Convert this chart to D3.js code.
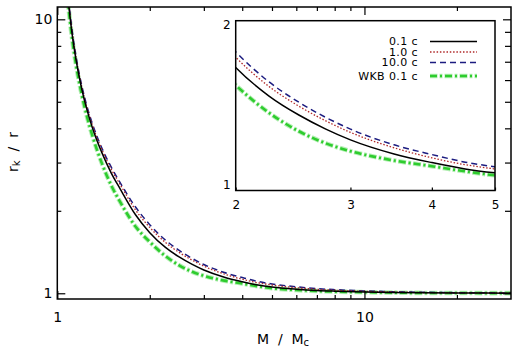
<!DOCTYPE html>
<html>
<head>
<meta charset="utf-8">
<script src="https://cdn.jsdelivr.net/npm/d3@7"></script>
<style>
  body { margin: 0; background: #fff; }
  text { font-family: "DejaVu Sans", sans-serif; fill: #000; }
</style>
</head>
<body>
<div id="chart"></div>
<script>
// M / Mc sample points and r_k / r for each run
const massRatio = [1.08, 1.09, 1.1, 1.12, 1.15, 1.2, 1.25, 1.3, 1.4, 1.5, 1.6, 1.8, 2, 2.25, 2.5, 2.75, 3, 3.5, 4, 4.5, 5, 6, 7, 8, 10, 12, 15, 20, 25, 30];
const run01 = [12.5, 11.2, 10.2, 8.67, 7.14, 5.59, 4.66, 4.03, 3.24, 2.74, 2.41, 1.93, 1.664, 1.47, 1.354, 1.274, 1.216, 1.144, 1.102, 1.072, 1.054, 1.035, 1.024, 1.018, 1.011, 1.007, 1.004, 1.002, 1.0015, 1.001];
const run10 = [12.75, 11.42, 10.4, 8.84, 7.28, 5.7, 4.75, 4.12, 3.33, 2.83, 2.5, 2.01, 1.739, 1.532, 1.407, 1.32, 1.256, 1.175, 1.125, 1.092, 1.072, 1.048, 1.034, 1.026, 1.017, 1.012, 1.007, 1.004, 1.0025, 1.002];
const run100 = [12.88, 11.54, 10.51, 8.93, 7.35, 5.76, 4.8, 4.17, 3.37, 2.88, 2.54, 2.06, 1.78, 1.563, 1.431, 1.34, 1.274, 1.19, 1.141, 1.104, 1.082, 1.056, 1.04, 1.031, 1.02, 1.014, 1.009, 1.005, 1.0035, 1.003];
const wkb01 = [12.06, 10.81, 9.84, 8.34, 6.85, 5.34, 4.4, 3.77, 2.96, 2.47, 2.16, 1.75, 1.54, 1.367, 1.262, 1.198, 1.158, 1.112, 1.085, 1.061, 1.043, 1.028, 1.019, 1.014, 1.009, 1.006, 1.003, 1.002, 1.0015, 1.001];
const legendLabels = ["0.1 c", "1.0 c", "10.0 c", "WKB 0.1 c"];

const xMajor = [1, 10];
const xMinor = [2, 3, 4, 5, 6, 7, 8, 9, 20];
const yMajor = [1, 10];
const yMinor = [2, 3, 4, 5, 6, 7, 8, 9];
const insetXTicks = [2, 3, 4, 5];
const insetYTicks = [1, 2];

const width = 518, height = 350;

const svg = d3.select("#chart")
  .append("svg")
    .attr("width", width)
    .attr("height", height);

// main frame
const pLeft = 57.3, pRight = 511, pTop = 7, pBottom = 299;
const x = d3.scaleLog().domain([1, 30]).range([pLeft, pRight]);
const y = d3.scaleLog().domain([0.953, 11.09]).range([pBottom, pTop]);

const series = [
  { label: legendLabels[0], values: run01, color: "#000", dash: null, width: 1.5 },
  { label: legendLabels[1], values: run10, color: "#b02828", dash: "1.5,1.8", width: 1.3 },
  { label: legendLabels[2], values: run100, color: "#1c1c80", dash: "6,4", width: 1.5 },
  { label: legendLabels[3], values: wkb01, color: "#2ecc2e", dash: "7,3,2,3", width: 2.6, halo: "#b4eeb4" }
];

const defs = svg.append("defs");
defs.append("clipPath").attr("id", "clipMain")
  .append("rect")
    .attr("x", pLeft).attr("y", pTop)
    .attr("width", pRight - pLeft).attr("height", pBottom - pTop);

function lineFor(sx, sy) {
  return d3.line()
    .x(d => sx(d[0]))
    .y(d => sy(d[1]))
    .curve(d3.curveMonotoneX);
}

function drawSeries(g, line, keep) {
  // green first so the others sit on top
  series.slice().reverse().forEach(s => {
    const pts = massRatio.map((m, i) => [m, s.values[i]]).filter(keep);
    if (s.halo) {
      g.append("path")
        .datum(pts)
        .attr("fill", "none")
        .attr("stroke", s.halo)
        .attr("stroke-width", s.width + 2)
        .attr("stroke-dasharray", "8,2,3,2")
        .attr("stroke-dashoffset", 0.5)
        .attr("d", line);
    }
    g.append("path")
      .datum(pts)
      .attr("fill", "none")
      .attr("stroke", s.color)
      .attr("stroke-width", s.width)
      .attr("stroke-dasharray", s.dash)
      .attr("d", line);
  });
}

const mainG = svg.append("g").attr("clip-path", "url(#clipMain)");
drawSeries(mainG, lineFor(x, y), () => true);

// ticks, all pointing inward
function addTicks(axisFn, scale, values, size, tr, labels) {
  const a = axisFn(scale)
    .tickValues(values)
    .tickSizeInner(-size)
    .tickSizeOuter(0)
    .tickPadding(13)
    .tickFormat(labels ? d3.format("d") : "");
  const g = svg.append("g").attr("transform", tr).call(a);
  g.select(".domain").remove();
  g.selectAll("line").attr("stroke", "#000").attr("stroke-width", 1.2);
  g.selectAll("text").attr("font-size", 14).attr("font-family", "DejaVu Sans").attr("fill", "#000");
  return g;
}

addTicks(d3.axisBottom, x, xMajor, 8, `translate(0,${pBottom})`, true);
addTicks(d3.axisBottom, x, xMinor, 4, `translate(0,${pBottom})`, false);
addTicks(d3.axisTop, x, xMajor, 8, `translate(0,${pTop})`, false);
addTicks(d3.axisTop, x, xMinor, 4, `translate(0,${pTop})`, false);
addTicks(d3.axisLeft, y, yMajor, 8, `translate(${pLeft},0)`, true)
  .selectAll("text").attr("x", -5);
addTicks(d3.axisLeft, y, yMinor, 4, `translate(${pLeft},0)`, false);
addTicks(d3.axisRight, y, yMajor, 8, `translate(${pRight},0)`, false);
addTicks(d3.axisRight, y, yMinor, 6, `translate(${pRight},0)`, false);

svg.append("rect")
  .attr("x", pLeft).attr("y", pTop)
  .attr("width", pRight - pLeft).attr("height", pBottom - pTop)
  .attr("fill", "none").attr("stroke", "#000").attr("stroke-width", 1.5);

// axis titles
const xTitle = svg.append("text")
  .attr("x", 283).attr("y", 344)
  .attr("text-anchor", "middle")
  .attr("font-size", 14)
  .style("white-space", "pre");
xTitle.append("tspan").text("M  /  M");
xTitle.append("tspan").attr("font-size", 10).attr("dy", 2).text("c");

const yTitle = svg.append("text")
  .attr("transform", "translate(18,152) rotate(-90)")
  .attr("text-anchor", "middle")
  .attr("font-size", 14)
  .style("white-space", "pre");
yTitle.append("tspan").text("r");
yTitle.append("tspan").attr("font-size", 10).attr("dy", 2).text("k");
yTitle.append("tspan").attr("dy", -2).text("  /  r");

// inset
const iLeft = 235.7, iRight = 495, iTop = 20.7, iBottom = 190.5;
const xi = d3.scaleLog().domain([2, 5]).range([iLeft, iRight]);
const yi = d3.scaleLog().domain([0.9765, 2.037]).range([iBottom, iTop]);

svg.append("rect")
  .attr("x", iLeft).attr("y", iTop)
  .attr("width", iRight - iLeft).attr("height", iBottom - iTop)
  .attr("fill", "#fff");

defs.append("clipPath").attr("id", "clipInset")
  .append("rect")
    .attr("x", iLeft).attr("y", iTop)
    .attr("width", iRight - iLeft).attr("height", iBottom - iTop);

const insetG = svg.append("g").attr("clip-path", "url(#clipInset)");
drawSeries(insetG, lineFor(xi, yi), d => d[0] >= 1.8 && d[0] <= 6);

const ixAxis = svg.append("g")
  .attr("transform", `translate(0,${iBottom})`)
  .call(d3.axisBottom(xi).tickValues(insetXTicks).tickSizeInner(-3).tickSizeOuter(0)
    .tickPadding(10).tickFormat(d3.format("d")));
ixAxis.select(".domain").remove();
ixAxis.selectAll("line").attr("stroke", "#000").attr("stroke-width", 1.2);
ixAxis.selectAll("text").attr("font-size", 12).attr("font-family", "DejaVu Sans").attr("fill", "#000");

const iyAxis = svg.append("g")
  .attr("transform", `translate(${iLeft},0)`)
  .call(d3.axisLeft(yi).tickValues(insetYTicks).tickSize(0)
    .tickPadding(5).tickFormat(d3.format("d")));
iyAxis.select(".domain").remove();
iyAxis.selectAll("text").attr("font-size", 12).attr("font-family", "DejaVu Sans").attr("fill", "#000");

svg.append("rect")
  .attr("x", iLeft).attr("y", iTop)
  .attr("width", iRight - iLeft).attr("height", iBottom - iTop)
  .attr("fill", "none").attr("stroke", "#000").attr("stroke-width", 1.5);

// legend
const legendY = [41.5, 52, 62.5, 76];
const legend = svg.append("g");
series.forEach((s, i) => {
  legend.append("text")
    .attr("x", 418).attr("y", legendY[i])
    .attr("dy", "0.36em")
    .attr("text-anchor", "end")
    .attr("font-size", 11)
    .attr("letter-spacing", 0.4)
    .style("white-space", "pre")
    .text(s.label);
  if (s.halo) {
    legend.append("line")
      .attr("x1", 430).attr("x2", 477)
      .attr("y1", legendY[i]).attr("y2", legendY[i])
      .attr("stroke", s.halo)
      .attr("stroke-width", s.width + 2)
      .attr("stroke-dasharray", "8,2,3,2")
      .attr("stroke-dashoffset", 0.5);
  }
  legend.append("line")
    .attr("x1", 430).attr("x2", 477)
    .attr("y1", legendY[i]).attr("y2", legendY[i])
    .attr("stroke", s.color)
    .attr("stroke-width", s.width)
    .attr("stroke-dasharray", s.dash);
});
</script>
</body>
</html>
